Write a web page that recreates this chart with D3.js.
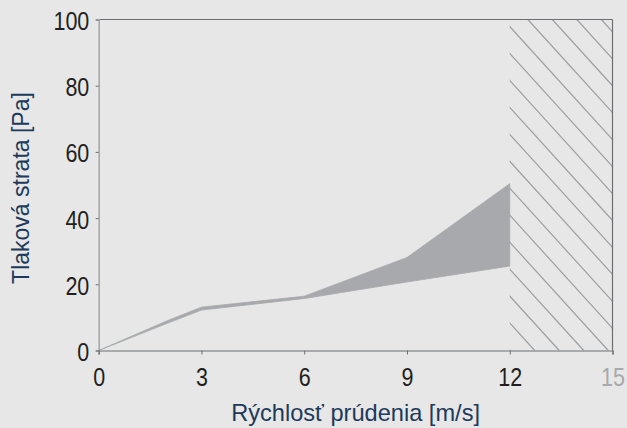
<!DOCTYPE html>
<html>
<head>
<meta charset="utf-8">
<script src="https://cdn.jsdelivr.net/npm/d3@7"></script>
<style>
  body { margin: 0; background: #e6e7e6; }
  svg { display: block; font-family: "Liberation Sans", Arial, sans-serif; }
</style>
</head>
<body>
<svg id="chart" width="627" height="428"></svg>
<script>
// rýchlosť prúdenia [m/s]
const speed = [0, 2, 3, 6, 9, 12];
// tlaková strata [Pa] - dolná a horná hranica pásma
const lossLow = [0, 8.2, 12.2, 15.7, 20.7, 25.5];
const lossHigh = [0, 9.0, 13.1, 16.4, 28.1, 50.4];
const xTicks = [0, 3, 6, 9, 12, 15];
const yTicks = [0, 20, 40, 60, 80, 100];
const hatchFrom = 12; // oblasť mimo rozsah
const xMax = 15, yMax = 100;

const margin = { top: 19.5, right: 14.5, bottom: 77.5, left: 98.7 };
const W = 627, H = 428;
const w = W - margin.left - margin.right;
const h = H - margin.top - margin.bottom;
const font = "Liberation Sans, Arial, sans-serif";
const squeeze = 0.86; // číslice v originále sú užšie

const svg = d3.select("#chart");
const g = svg.append("g").attr("transform", `translate(${margin.left},${margin.top})`);

const x = d3.scaleLinear().domain([0, xMax]).range([0, w]);
const y = d3.scaleLinear().domain([0, yMax]).range([h, 0]);

const rows = speed.map((s, i) => ({ s, lo: lossLow[i], hi: lossHigh[i] }));

// pásmo
g.append("path")
  .datum(rows)
  .attr("fill", "#a7a9ac")
  .attr("stroke", "#a7a9ac")
  .attr("stroke-width", 0.8)
  .attr("d", d3.area().x(d => x(d.s)).y0(d => y(d.lo)).y1(d => y(d.hi)));

// šrafovanie
const clip = svg.append("defs").append("clipPath").attr("id", "hclip");
clip.append("rect")
  .attr("x", x(hatchFrom)).attr("y", 0)
  .attr("width", x(xMax) - x(hatchFrom)).attr("height", h);
const step = 24.5, slope = 1.1;
const starts = d3.range(-20, 20).map(k => x(hatchFrom) + 25 + k * step);
g.append("g")
  .attr("clip-path", "url(#hclip)")
  .selectAll("line")
  .data(starts)
  .join("line")
  .attr("x1", d => d).attr("y1", h)
  .attr("x2", d => d - h / slope).attr("y2", 0)
  .attr("stroke", "#9d9fa2")
  .attr("stroke-width", 1.2);

// rám
g.append("line").attr("x1", 0).attr("x2", w).attr("y1", 0).attr("y2", 0)
  .attr("stroke", "#6d6e71").attr("stroke-width", 1.2);
g.append("line").attr("x1", w).attr("x2", w).attr("y1", 0).attr("y2", h)
  .attr("stroke", "#6d6e71").attr("stroke-width", 1.2);

// osi
const yAxis = g.append("g")
  .call(d3.axisLeft(y).tickValues(yTicks).tickSize(3).tickPadding(6.4).tickFormat(d3.format("d")));
yAxis.select(".domain").attr("stroke", "#a7a9ac").attr("stroke-width", 1.6);
yAxis.selectAll(".tick line").attr("stroke", "#6d6e71");
yAxis.selectAll("text")
  .attr("font-size", 25).attr("fill", "#231f20").attr("font-family", font)
  .attr("x", -9.4 / squeeze).attr("dy", "0.4em")
  .attr("transform", `scale(${squeeze},1)`);

const xAxis = g.append("g")
  .attr("transform", `translate(0,${h})`)
  .call(d3.axisBottom(x).tickValues(xTicks).tickSize(4).tickPadding(13.3).tickFormat(d3.format("d")));
xAxis.select(".domain").attr("stroke", "#6d6e71").attr("stroke-width", 1.2);
xAxis.selectAll(".tick line").attr("stroke", "#6d6e71");
xAxis.selectAll("text")
  .attr("font-size", 25).attr("font-family", font)
  .attr("fill", d => d > hatchFrom ? "#a7a9ac" : "#231f20")
  .attr("transform", `scale(${squeeze},1)`);

// názvy osí
svg.append("text")
  .attr("x", margin.left + w / 2).attr("y", 421)
  .attr("text-anchor", "middle")
  .attr("font-size", 23.6)
  .attr("fill", "#1d3a5c")
  .text("Rýchlosť prúdenia [m/s]");

svg.append("text")
  .attr("transform", `translate(29,188) rotate(-90)`)
  .attr("text-anchor", "middle")
  .attr("font-size", 23)
  .attr("fill", "#1d3a5c")
  .text("Tlaková strata [Pa]");
</script>
</body>
</html>
